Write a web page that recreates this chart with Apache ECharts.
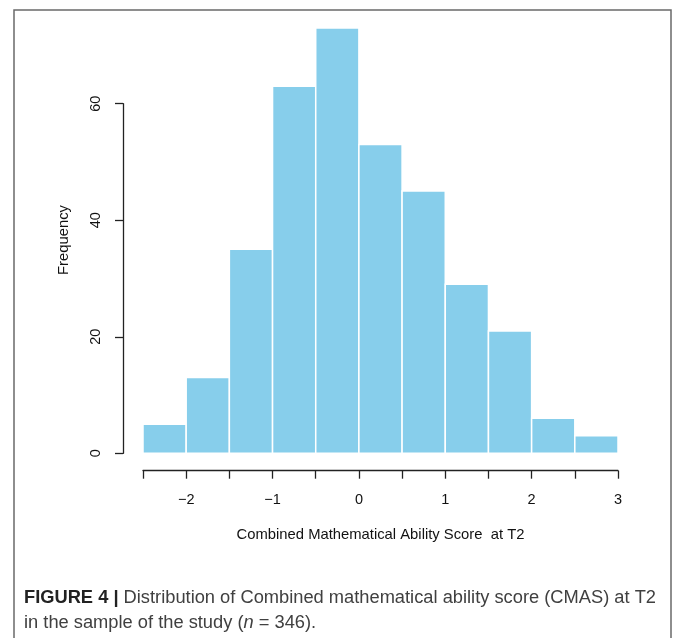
<!DOCTYPE html>
<html>
<head>
<meta charset="utf-8">
<style>
  html, body { margin: 0; padding: 0; background: #ffffff; }
  #chart { width: 673px; height: 638px; }
</style>
<script src="https://cdn.jsdelivr.net/npm/echarts@6/dist/echarts.min.js"></script>
</head>
<body>
<div id="chart"></div>
<script>
// ---- data ----
const binStarts = [-2.5, -2, -1.5, -1, -0.5, 0, 0.5, 1, 1.5, 2, 2.5];
const binWidth = 0.5;
const counts = [5, 13, 35, 63, 73, 53, 45, 29, 21, 6, 3];
const xTickLabels = [-2, -1, 0, 1, 2, 3];
const yTickLabels = [0, 20, 40, 60];
const xTitle = 'Combined Mathematical Ability Score  at T2';
const yTitle = 'Frequency';

const FONT = '"Liberation Sans", Arial, Helvetica, sans-serif';

const chart = echarts.init(document.getElementById('chart'), null, { renderer: 'canvas' });

const histData = binStarts.map((s, i) => [s, s + binWidth, counts[i]]);

function fmtX(v) {
  if (!xTickLabels.some(t => Math.abs(t - v) < 1e-9)) return '';
  return v < 0 ? '\u2212' + Math.abs(v) : String(v);
}

chart.setOption({
  animation: false,
  backgroundColor: '#ffffff',
  textStyle: { fontFamily: FONT },
  grid: { left: 143, right: 55, top: 103.7, bottom: 184.7, containLabel: false },
  xAxis: {
    type: 'value',
    min: -2.5, max: 3, interval: 0.5,
    offset: 17.4,
    name: xTitle,
    nameLocation: 'middle',
    nameGap: 57,
    nameTextStyle: { fontFamily: FONT, fontSize: 14.8, color: '#111' },
    axisLine: { show: true, onZero: false, lineStyle: { color: '#222', width: 1.3 } },
    axisTick: { show: true, length: 8, lineStyle: { color: '#222', width: 1.3 } },
    axisLabel: { show: true, margin: 22, fontFamily: FONT, fontSize: 14.5, color: '#111', showMaxLabel: true, showMinLabel: true, formatter: fmtX },
    splitLine: { show: false }
  },
  yAxis: {
    type: 'value',
    min: 0, max: 60, interval: 20,
    offset: 20,
    name: yTitle,
    nameLocation: 'middle',
    nameGap: 52,
    nameTextStyle: { fontFamily: FONT, fontSize: 14.8, color: '#111', padding: [0, 0, 0, 77] },
    axisLine: { show: true, onZero: false, lineStyle: { color: '#222', width: 1.3 } },
    axisTick: { show: true, length: 8, lineStyle: { color: '#222', width: 1.3 } },
    axisLabel: { show: true, rotate: 90, margin: 20, fontFamily: FONT, fontSize: 14.5, color: '#111',
      formatter: v => yTickLabels.indexOf(v) >= 0 ? String(v) : '' },
    splitLine: { show: false }
  },
  title: {
    left: 24, top: 585, padding: 0,
    text: '{b|FIGURE 4 |} Distribution of Combined mathematical ability score (CMAS) at T2\nin the sample of the study ({i|n} = 346).',
    textStyle: {
      fontFamily: FONT, fontSize: 18.3, fontWeight: 'normal', color: '#404040', lineHeight: 25,
      rich: {
        b: { fontFamily: FONT, fontSize: 18.3, fontWeight: 'bold', color: '#222', lineHeight: 25 },
        i: { fontFamily: FONT, fontSize: 18.3, fontStyle: 'italic', color: '#404040', lineHeight: 25 }
      }
    }
  },
  graphic: [{
    type: 'rect', silent: true, z: 100,
    shape: { x: 14, y: 10, width: 657, height: 660 },
    style: { fill: 'none', stroke: '#6a6a6a', lineWidth: 1.5 }
  }],
  series: [{
    type: 'custom',
    clip: false,
    encode: { x: [0, 1], y: 2 },
    data: histData,
    renderItem: function (params, api) {
      const x0 = api.value(0), x1 = api.value(1), y = api.value(2);
      const pTop = api.coord([x0, y]);
      const pBot = api.coord([x1, 0]);
      return {
        type: 'rect',
        shape: { x: pTop[0], y: pTop[1], width: pBot[0] - pTop[0], height: pBot[1] - pTop[1] },
        style: { fill: '#87ceeb', stroke: '#ffffff', lineWidth: 1.5 }
      };
    }
  }]
});
</script>
</body>
</html>
